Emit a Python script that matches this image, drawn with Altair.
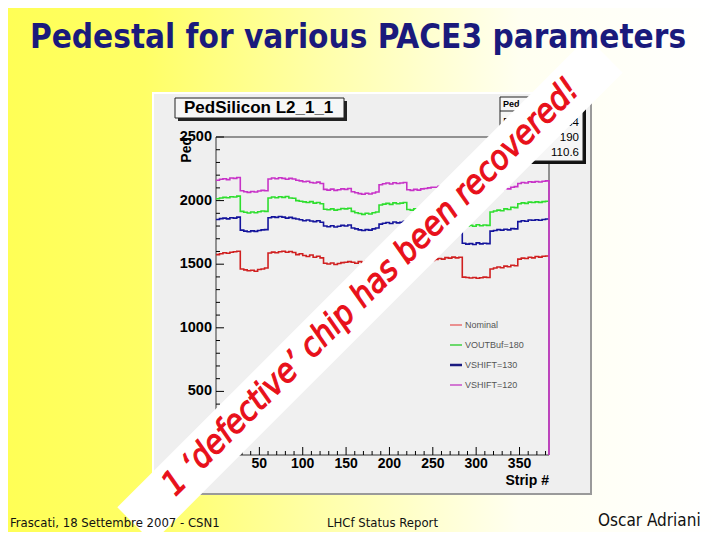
import altair as alt
import pandas as pd

# ---------------- data (4-strip bins) ----------------
strips = list(range(0, 384, 4)) + [384]

nominal = [1575, 1582, 1590, 1586, 1594, 1598, 1602,
           1462, 1455, 1448, 1452, 1445, 1458, 1462, 1470,
           1588, 1595, 1590, 1598, 1602, 1594, 1600, 1592,
           1575, 1582, 1568, 1560, 1572, 1555, 1562, 1550,
           1508, 1502, 1510, 1498, 1505, 1512, 1515, 1520,
           1515, 1508, 1520, 1512, 1525, 1518, 1530, 1522,
           1540, 1548, 1535, 1552, 1545, 1550, 1542, 1538,
           1505, 1498, 1510, 1502, 1515, 1520, 1525, 1530,
           1538, 1545, 1540, 1552, 1548, 1556, 1550, 1555,
           1398, 1395, 1392, 1396, 1390, 1394, 1398, 1396,
           1462, 1470, 1478, 1472, 1485, 1480, 1492, 1488,
           1540, 1548, 1545, 1555, 1550, 1560, 1556, 1562, 1565, 1565]

voutbuf180 = [2015, 2020, 2025, 2022, 2030, 2028, 2035,
              1915, 1908, 1902, 1910, 1905, 1912, 1918, 1915,
              2020, 2028, 2022, 2030, 2025, 2032, 2020, 2018,
              2000, 1995, 1990, 1985, 1992, 1980, 1985, 1975,
              1932, 1928, 1935, 1925, 1930, 1938, 1935, 1940,
              1915, 1905, 1898, 1892, 1900, 1895, 1905, 1910,
              1965, 1972, 1978, 1970, 1982, 1975, 1980, 1985,
              1930, 1925, 1935, 1928, 1940, 1945, 1950, 1955,
              1955, 1962, 1958, 1965, 1960, 1968, 1962, 1965,
              1808, 1800, 1805, 1798, 1810, 1802, 1808, 1805,
              1910, 1918, 1925, 1920, 1935, 1930, 1948, 1945,
              1975, 1982, 1978, 1988, 1985, 1990, 1986, 1992, 1995, 1995]

vshift130 = [1852, 1858, 1862, 1856, 1865, 1862, 1870,
             1768, 1760, 1755, 1762, 1758, 1765, 1770, 1772,
             1865, 1872, 1868, 1875, 1870, 1862, 1868, 1860,
             1855, 1850, 1842, 1848, 1840, 1835, 1842, 1830,
             1800, 1795, 1802, 1792, 1798, 1805, 1800, 1808,
             1785, 1778, 1770, 1765, 1772, 1768, 1778, 1785,
             1815, 1822, 1828, 1820, 1832, 1825, 1830, 1838,
             1790, 1785, 1795, 1788, 1800, 1805, 1810, 1812,
             1815, 1822, 1818, 1828, 1825, 1830, 1826, 1832,
             1665, 1658, 1662, 1655, 1668, 1660, 1665, 1662,
             1760, 1765, 1772, 1768, 1775, 1770, 1780, 1778,
             1835, 1842, 1838, 1848, 1845, 1850, 1846, 1852, 1855, 1855]

vshift120 = [2160, 2168, 2172, 2165, 2178, 2175, 2182,
             2078, 2070, 2065, 2072, 2068, 2075, 2080, 2078,
             2170, 2178, 2172, 2180, 2175, 2168, 2175, 2170,
             2160, 2155, 2148, 2152, 2142, 2138, 2145, 2135,
             2088, 2082, 2090, 2080, 2085, 2092, 2088, 2095,
             2070, 2062, 2055, 2050, 2058, 2052, 2060, 2068,
             2125, 2132, 2138, 2130, 2140, 2135, 2138, 2142,
             2085, 2080, 2088, 2082, 2092, 2095, 2100, 2105,
             2105, 2112, 2108, 2118, 2115, 2120, 2116, 2122,
             1985, 1978, 1982, 1975, 1988, 1980, 1985, 1982,
             2078, 2085, 2090, 2086, 2095, 2092, 2105, 2110,
             2135, 2142, 2138, 2148, 2145, 2150, 2146, 2152, 2155, 0]

series_names = ["Nominal", "VOUTBuf=180", "VSHIFT=130", "VSHIFT=120"]
series_values = [nominal, voutbuf180, vshift130, vshift120]
line_colors = ["#d02020", "#2ede2e", "#14149c", "#c832c8"]
legend_colors = ["#e87070", "#40d040", "#1a1a80", "#c850c8"]

x_major = [0, 50, 100, 150, 200, 250, 300, 350]
x_minor = [v for v in range(0, 385, 10) if v % 50 != 0]
y_major = [0, 500, 1000, 1500, 2000, 2500]
y_minor = [v for v in range(0, 2501, 100) if v % 500 != 0]

stats_labels = ["Entries", "Mean", "RMS"]
stats_values = ["384", "190", "110.6"]

slide_title = "Pedestal for various PACE3 parameters"
hist_title = "PedSilicon L2_1_1"
stamp = "1 \u2018defective\u2019 chip has been recovered!"
footer_left = "Frascati, 18 Settembre 2007 - CSN1"
footer_mid = "LHCf Status Report"
footer_right = "Oscar Adriani"

# ---------------- chart ----------------
W, H = 333, 318
xs = alt.Scale(domain=[0, 384], nice=False, zero=False)
ys = alt.Scale(domain=[0, 2500], nice=False, zero=False)
one = alt.Data(values=[{"a": 0}])
HF = "Liberation Sans"
HAND = "DejaVu Sans Condensed"


def box(x1, x2, y1, y2, **kw):
    return alt.Chart(one).mark_rect(**kw).encode(
        x=alt.value(x1), x2=alt.value(x2), y=alt.value(y1), y2=alt.value(y2))


def seg(x1, x2, y1, y2, **kw):
    return alt.Chart(one).mark_rule(**kw).encode(
        x=alt.value(x1), x2=alt.value(x2), y=alt.value(y1), y2=alt.value(y2))


def label(txt, x, y, **kw):
    return alt.Chart(one).mark_text(text=txt, **kw).encode(
        x=alt.value(x), y=alt.value(y))


grad = alt.LinearGradient(
    gradient="linear", x1=0, x2=1, y1=0, y2=0,
    stops=[alt.GradientStop(color="#ffff55", offset=0),
           alt.GradientStop(color="#ffff66", offset=0.2),
           alt.GradientStop(color="#ffffaa", offset=0.45),
           alt.GradientStop(color="#fffff0", offset=0.72),
           alt.GradientStop(color="#ffffff", offset=1)])

layers = []
layers.append(box(-216, 504, -137, 403, fill=grad))
# ROOT canvas with bevel
layers.append(box(-64, 376, -45, 358, fill="#efefef"))
layers.append(seg(-64, 376, -44, -44, color="#ffffff", strokeWidth=2))
layers.append(seg(-63, -63, -45, 358, color="#ffffff", strokeWidth=2))
layers.append(seg(-64, 376, 357, 357, color="#9a9a9a", strokeWidth=2))
layers.append(seg(375, 375, -45, 358, color="#9a9a9a", strokeWidth=2))
# frame
layers.append(box(0, W, 0, H, fill="#f0f0f0", stroke="#333333", strokeWidth=1))

# histogram title box
layers.append(box(-38, 131, -36, -16, fill="#222222"))
layers.append(box(-41, 128, -39, -19, fill="#f6f6f6", stroke="#222222", strokeWidth=1))
layers.append(label(hist_title, -32, -29, font=HF, fontSize=17, fontWeight="bold",
                    align="left", baseline="middle", color="#000000"))

# ticks
xt = pd.DataFrame({"v": x_major})
xm = pd.DataFrame({"v": x_minor})
yt = pd.DataFrame({"v": y_major})
ym = pd.DataFrame({"v": y_minor})
layers.append(alt.Chart(xt).mark_rule(color="#000000", strokeWidth=1).encode(
    x=alt.X("v:Q", scale=xs, axis=None), y=alt.value(H), y2=alt.value(H - 8)))
layers.append(alt.Chart(xm).mark_rule(color="#000000", strokeWidth=1).encode(
    x=alt.X("v:Q", scale=xs, axis=None), y=alt.value(H), y2=alt.value(H - 4)))
layers.append(alt.Chart(yt).mark_rule(color="#000000", strokeWidth=1).encode(
    y=alt.Y("v:Q", scale=ys, axis=None), x=alt.value(0), x2=alt.value(8)))
layers.append(alt.Chart(ym).mark_rule(color="#000000", strokeWidth=1).encode(
    y=alt.Y("v:Q", scale=ys, axis=None), x=alt.value(0), x2=alt.value(4)))
layers.append(alt.Chart(xt).mark_text(font=HF, fontSize=14, fontWeight="bold",
                                      baseline="middle", color="#000000").encode(
    x=alt.X("v:Q", scale=xs, axis=None), y=alt.value(H + 9), text="v:Q"))
layers.append(alt.Chart(yt).mark_text(font=HF, fontSize=14.5, fontWeight="bold",
                                      align="right", baseline="middle", color="#000000").encode(
    y=alt.Y("v:Q", scale=ys, axis=None), x=alt.value(-4), text="v:Q"))
layers.append(label("Strip #", W, H + 26, font=HF, fontSize=14, fontWeight="bold",
                    align="right", baseline="middle", color="#000000"))
layers.append(label("Ped", -29, 0, font=HF, fontSize=14, fontWeight="bold", angle=270,
                    align="right", baseline="middle", color="#000000"))

# data lines
rows = []
for name, vals in zip(series_names, series_values):
    for s, v in zip(strips, vals):
        rows.append({"strip": s, "ped": v, "series": name})
df = pd.DataFrame(rows)
layers.append(alt.Chart(df).mark_line(interpolate="step-after", strokeWidth=1.6).encode(
    x=alt.X("strip:Q", scale=xs, axis=None),
    y=alt.Y("ped:Q", scale=ys, axis=None),
    color=alt.Color("series:N", scale=alt.Scale(domain=series_names, range=line_colors), legend=None),
    detail="series:N"))

# legend
for i, (name, col) in enumerate(zip(series_names, legend_colors)):
    yy = 188 + i * 20
    layers.append(seg(234, 246, yy, yy, color=col, strokeWidth=2.5 if i == 2 else 1.5))
    layers.append(label(name, 249, yy, font=HF, fontSize=9, align="left",
                        baseline="middle", color="#555555"))

# stats box
layers.append(box(287, 370, -37, 27, fill="#111111"))
layers.append(box(284, 367, -40, 24, fill="#f6f6f6", stroke="#222222", strokeWidth=1))
layers.append(seg(284, 367, -26, -26, color="#222222", strokeWidth=1))
layers.append(label("Ped", 287, -33, font=HF, fontSize=9, fontWeight="bold",
                    align="left", baseline="middle", color="#000000"))
for i, (lab, val) in enumerate(zip(stats_labels, stats_values)):
    yy = -14 + i * 15
    layers.append(label(lab, 287, yy, font=HF, fontSize=11.5, align="left",
                        baseline="middle", color="#000000"))
    layers.append(label(val, 363, yy, font=HF, fontSize=11.5, align="right",
                        baseline="middle", color="#000000"))

# white diagonal band with the red stamp
layers.append(seg(-81, 389, 388, -82, color="#ffffff", strokeWidth=50, strokeCap="butt"))
layers.append(label(stamp, 155, 150, font=HAND, fontSize=33, fontStyle="italic",
                    fontWeight="normal", angle=315, align="center", baseline="middle",
                    color="#e8101a", stroke="#e8101a", strokeWidth=1.1))

# slide title and footers
layers.append(label(slide_title, 142, -99, font=HAND, fontSize=33, fontWeight="bold",
                    align="center", baseline="middle", color="#1a1a7c"))
layers.append(label(footer_left, -206, 386, font=HAND, fontSize=13, align="left",
                    baseline="middle", color="#111111"))
layers.append(label(footer_mid, 111, 386, font=HAND, fontSize=13, align="left",
                    baseline="middle", color="#111111"))
layers.append(label(footer_right, 382, 384, font=HAND, fontSize=17, align="left",
                    baseline="middle", color="#111111"))

chart = alt.layer(*layers).properties(
    width=W, height=H,
    autosize=alt.AutoSizeParams(type="none"),
    padding={"left": 208, "top": 129, "right": 163, "bottom": 77},
    background="#ffffff",
).configure_view(stroke=None, fill=None)

chart.save("out.html", embed_options={"renderer": "svg", "actions": False})
